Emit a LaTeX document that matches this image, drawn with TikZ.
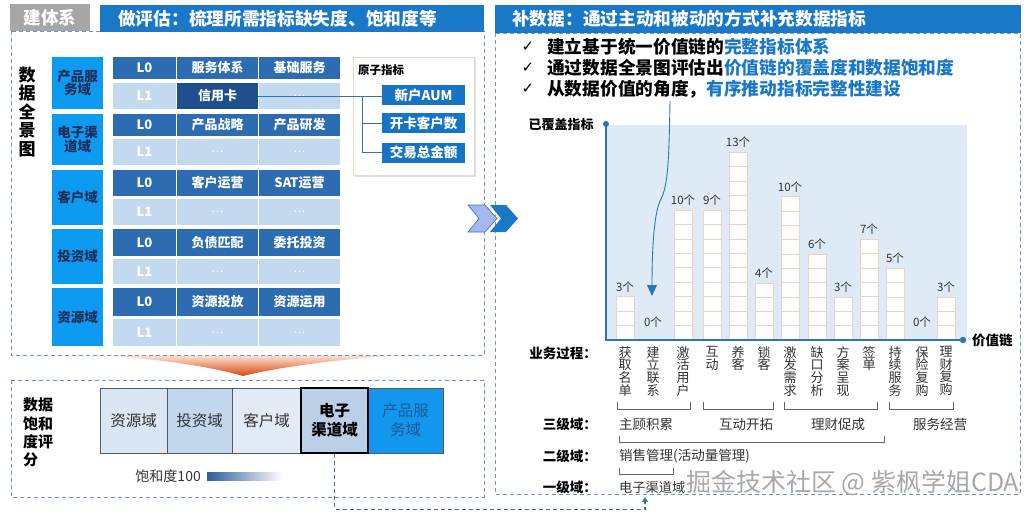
\documentclass[tikz,border=0pt]{standalone}
\usepackage{fontspec}
\setmainfont{Noto Sans CJK SC}
\newfontfamily\chk{DejaVu Sans}
\usetikzlibrary{arrows.meta,shadows}
\newcommand\fsz[1]{\fontsize{#1}{#1}\selectfont}
\definecolor{tblue}{HTML}{1A78C8}
\definecolor{tgray}{HTML}{A6A6A6}
\definecolor{lzero}{HTML}{2E6CB2}
\definecolor{lone}{HTML}{C3D9EF}
\definecolor{navyc}{HTML}{1F4E8C}
\definecolor{dom}{HTML}{0D9BF2}
\definecolor{domtext}{HTML}{1B2F5A}
\definecolor{dashc}{HTML}{7594B3}
\definecolor{axisc}{HTML}{2E75B6}
\definecolor{chartbg}{HTML}{DEEAF6}
\definecolor{cellb}{HTML}{F0D2C3}
\definecolor{txtg}{HTML}{333333}
\definecolor{abord}{HTML}{E6D8CB}
\definecolor{aboxc}{HTML}{1574C4}
\definecolor{funtop}{HTML}{FCE6DA}
\definecolor{funbot}{HTML}{D9480F}
\definecolor{sone}{HTML}{DAE6F3}
\definecolor{stwo}{HTML}{C3D7EC}
\definecolor{sthree}{HTML}{E1EBF6}
\definecolor{sfour}{HTML}{BBD0E7}
\definecolor{sfive}{HTML}{1296EE}
\definecolor{sfivetext}{HTML}{1D5A9A}
\definecolor{legc}{HTML}{2D5D9B}
\definecolor{wmc}{HTML}{A8A8A8}
\begin{document}
\begin{tikzpicture}[x=1pt,y=-1pt,
  dashbox/.style={draw=dashc, dash pattern=on 4pt off 3pt, line width=0.8pt},
  lzcell/.style={fill=lzero, text=white, font=\bfseries\fsz{13}, inner sep=0},
  locell/.style={fill=lone, text=white, font=\bfseries\fsz{13}, inner sep=0},
  dombox/.style={fill=dom, text=domtext, font=\bfseries\fsz{13.5}, align=center, inner sep=0, minimum width=51},
  abox/.style={fill=aboxc, text=white, font=\bfseries\fsz{13.5}, inner sep=0, minimum width=83, minimum height=20},
  sbox/.style={draw=black!65, line width=0.8pt, text=txtg, font=\fsz{15.5}, align=center, inner sep=0, minimum height=65},
  barcell/.style={fill=white, draw=cellb, line width=0.7pt},
  cnt/.style={font=\fsz{11.5}, text=txtg, inner sep=0},
  vlab/.style={font=\fontsize{13}{12.7}\selectfont, align=center, anchor=north, inner sep=0, text=txtg},
  rowlab/.style={font=\bfseries\fsz{13.5}, anchor=east, inner sep=0},
  brk/.style={draw=black!60, line width=0.7pt},
  conn/.style={draw=axisc, line width=0.9pt},
  bul/.style={anchor=west, font=\bfseries\fsz{17.7}, inner sep=0},
  chkm/.style={font=\chk\fsz{15}, inner sep=0}
]
\useasboundingbox (0,0) rectangle (1033,514);

% ---------- funnel ----------
\shade[top color=funtop, bottom color=funbot] (102,355) .. controls (170,360) and (215,368) .. (243,376) .. controls (275,368) and (330,360) .. (400,355) -- cycle;

% ---------- dashed panels ----------
\draw[dashbox] (11,31) rectangle (484,355);
\draw[dashbox] (11,380) rectangle (484,497);
\draw[dashbox] (495,33) rectangle (1020,494);

% ---------- titles ----------
\node[fill=tgray, text=white, font=\bfseries\fsz{17.5}, minimum width=80, minimum height=27, inner sep=0] (tabL) at (50,17.5) {建体系};
\node[fill=tblue, minimum width=384, minimum height=27, inner sep=0] (barL) at (292,18.5) {};
\node[anchor=west, text=white, font=\bfseries\fsz{17.7}, inner sep=0] (ttlL) at (118,19) {做评估：梳理所需指标缺失度、饱和度等};
\node[fill=tblue, minimum width=526, minimum height=28, inner sep=0] (barR) at (758,19) {};
\node[anchor=west, text=white, font=\bfseries\fsz{17.7}, inner sep=0] (ttlR) at (512,19) {补数据：通过主动和被动的方式补充数据指标};

% ---------- left: data panorama ----------
\node[font=\bfseries\fontsize{17}{18.5}\selectfont, align=center, inner sep=0] (pano) at (27,112) {数\\据\\全\\景\\图};

\node[dombox, minimum height=52] (d1) at (77.5,83) {产品服\\务域};
\node[dombox, minimum height=51] (d2) at (77.5,139.5) {电子渠\\道域};
\node[dombox, minimum height=55] (d3) at (77.5,197.5) {客户域};
\node[dombox, minimum height=55] (d4) at (77.5,256.5) {投资域};
\node[dombox, minimum height=58] (d5) at (77.5,317) {资源域};

% row 1
\node[lzcell, minimum width=63, minimum height=22] (r1a) at (144.5,68) {L0};
\node[lzcell, minimum width=81, minimum height=22] (r1b) at (217.5,68) {服务体系};
\node[lzcell, minimum width=81, minimum height=22] (r1c) at (299.5,68) {基础服务};
\node[locell, minimum width=63, minimum height=26] (s1a) at (144.5,96) {L1};
\node[fill=navyc, text=white, font=\bfseries\fsz{13}, inner sep=0, minimum width=81, minimum height=26] (xyk) at (217.5,96) {信用卡};
\node[locell, minimum width=81, minimum height=26, font=\fsz{11}] (s1c) at (299.5,96) {…};
% row 2
\node[lzcell, minimum width=63, minimum height=22] (r2a) at (144.5,125) {L0};
\node[lzcell, minimum width=81, minimum height=22] (r2b) at (217.5,125) {产品战略};
\node[lzcell, minimum width=81, minimum height=22] (r2c) at (299.5,125) {产品研发};
\node[locell, minimum width=63, minimum height=26] (s2a) at (144.5,152) {L1};
\node[locell, minimum width=81, minimum height=26, font=\fsz{11}] (s2b) at (217.5,152) {…};
\node[locell, minimum width=81, minimum height=26, font=\fsz{11}] (s2c) at (299.5,152) {…};
% row 3
\node[lzcell, minimum width=63, minimum height=26] (r3a) at (144.5,183) {L0};
\node[lzcell, minimum width=81, minimum height=26] (r3b) at (217.5,183) {客户运营};
\node[lzcell, minimum width=81, minimum height=26] (r3c) at (299.5,183) {SAT运营};
\node[locell, minimum width=63, minimum height=26] (s3a) at (144.5,212) {L1};
\node[locell, minimum width=81, minimum height=26, font=\fsz{11}] (s3b) at (217.5,212) {…};
\node[locell, minimum width=81, minimum height=26, font=\fsz{11}] (s3c) at (299.5,212) {…};
% row 4
\node[lzcell, minimum width=63, minimum height=27] (r4a) at (144.5,242.5) {L0};
\node[lzcell, minimum width=81, minimum height=27] (r4b) at (217.5,242.5) {负债匹配};
\node[lzcell, minimum width=81, minimum height=27] (r4c) at (299.5,242.5) {委托投资};
\node[locell, minimum width=63, minimum height=25] (s4a) at (144.5,271.5) {L1};
\node[locell, minimum width=81, minimum height=25, font=\fsz{11}] (s4b) at (217.5,271.5) {…};
\node[locell, minimum width=81, minimum height=25, font=\fsz{11}] (s4c) at (299.5,271.5) {…};
% row 5
\node[lzcell, minimum width=63, minimum height=28] (r5a) at (144.5,302) {L0};
\node[lzcell, minimum width=81, minimum height=28] (r5b) at (217.5,302) {资源投放};
\node[lzcell, minimum width=81, minimum height=28] (r5c) at (299.5,302) {资源运用};
\node[locell, minimum width=63, minimum height=27] (s5a) at (144.5,332.5) {L1};
\node[locell, minimum width=81, minimum height=27, font=\fsz{11}] (s5b) at (217.5,332.5) {…};
\node[locell, minimum width=81, minimum height=27, font=\fsz{11}] (s5c) at (299.5,332.5) {…};

% atomic indicators
\node[draw=abord, fill=white, drop shadow={opacity=0.25, shadow xshift=2pt, shadow yshift=-2pt}, minimum width=121, minimum height=118, inner sep=0] (atom) at (413.5,116) {};
\node[anchor=west, font=\bfseries\fsz{11.5}, inner sep=0] (atomt) at (358,70) {原子指标};
\node[abox] (a1) at (423.5,95) {新户AUM};
\node[abox] (a2) at (423.5,123) {开卡客户数};
\node[abox] (a3) at (423.5,152.5) {交易总金额};
\draw[conn] (xyk.east) -- (xyk.east -| a1.west);
\coordinate (jn) at (362,96);
\draw[conn] (jn) |- (a3.west);
\draw[conn] (jn |- a2.west) -- (a2.west);

% ---------- bottom-left: saturation scores ----------
\node[font=\bfseries\fontsize{15}{18.3}\selectfont, align=left, anchor=west, inner sep=0] (satl) at (23,432.5) {数据\\饱和\\度评\\分};
\node[sbox, fill=sone, minimum width=67] (e1) at (133.5,420.5) {资源域};
\node[sbox, fill=stwo, minimum width=65] (e2) at (199.5,420.5) {投资域};
\node[sbox, fill=sthree, minimum width=69] (e3) at (266.5,420.5) {客户域};
\node[sbox, fill=sfive, minimum width=75, text=sfivetext, font=\fontsize{15.5}{19}\selectfont] (e5) at (405.5,420.5) {产品服\\务域};
\node[sbox, fill=sfour, minimum width=67, draw=black, line width=2.5pt, text=black, font=\bfseries\fontsize{15.5}{19}\selectfont] (e4) at (334.5,420.5) {电子\\渠道域};
\node[anchor=east, font=\fsz{14}, text=txtg, inner sep=0] (legt) at (201,476) {饱和度100};
\shade[left color=legc, right color=white] (207,472) rectangle (283,480);

% ---------- chevrons ----------
\draw[fill=lone!85!blue, draw=axisc, line width=0.6pt] (468,205) -- (485,205) -- (497,218.5) -- (485,232) -- (468,232) -- (479,218.5) -- cycle;
\fill[tblue] (490,205) -- (506,205) -- (518,218.5) -- (506,232) -- (490,232) -- (501,218.5) -- cycle;

% ---------- right: bullets ----------
\node[chkm] (k1) at (528,47) {✓};
\node[chkm] (k2) at (528,68) {✓};
\node[chkm] (k3) at (528,89) {✓};
\node[bul] (b1) at (547,47) {建立基于统一价值链的\textcolor{tblue}{完整指标体系}};
\node[bul] (b2) at (547,68) {通过数据全景图评估出\textcolor{tblue}{价值链的覆盖度和数据饱和度}};
\node[bul] (b3) at (547,89) {从数据价值的角度，\textcolor{tblue}{有序推动指标完整性建设}};

% ---------- chart ----------
\fill[chartbg] (606,125) rectangle (967,340);
\foreach \cx/\n/\top/\lab [count=\i] in {625/3/296.7/3, 653/0/332/0, 683/9/210/10, 712/9/210/9, 738/13/152.3/13, 764/4/283.3/4, 790/10/196.7/10, 817/6/254/6, 843/3/297.3/3, 869/7/239.3/7, 895/5/268.3/5, 922/0/332/0, 946/3/297/3} {
  \ifnum\n>0
    \pgfmathsetmacro\hh{(340-\top)/\n}
    \foreach \k in {1,...,\n} {
      \draw[barcell] (\cx-9,{340-(\k-1)*\hh}) rectangle (\cx+9,{340-\k*\hh});
    }
  \fi
  \node[cnt] (c\i) at (\cx,{\top-10}) {\lab 个};
}
\draw[axisc, line width=1.8pt] (606,124) -- (606,340) -- (963,340);
\fill[axisc] (606,124) circle (3);
\fill[axisc] (963,340) circle (3.2);
\node[font=\bfseries\fsz{13}, inner sep=0] (ylab) at (561,125) {已覆盖指标};
\node[font=\bfseries\fsz{13.5}, anchor=west, inner sep=0] (xlab) at (972,340) {价值链};

% curved arrow
\coordinate (as) at (670,101);
\coordinate (ae) at (652,296);
\draw[axisc, line width=0.9pt, -{Triangle[width=10pt,length=11pt]}] (as) .. controls (669,160) and (668,185) .. (661,199) .. controls (655,210) and (652,240) .. (ae);

% process labels
\foreach \cx/\t [count=\i] in {625/获\\取\\名\\单, 653/建\\立\\联\\系, 683/激\\活\\用\\户, 712/互\\动, 738/养\\客, 764/锁\\客, 790/激\\发\\需\\求, 817/缺\\口\\分\\析, 843/方\\案\\呈\\现, 869/签\\单, 895/持\\续\\服\\务, 922/保\\险\\复\\购, 946/理\\财\\复\\购} {
  \node[vlab] (v\i) at (\cx,346) {\t};
}
\node[rowlab] (lp) at (597,353) {业务过程：};
\node[rowlab] (l3) at (597,424) {三级域：};
\node[rowlab] (l2) at (597,456) {二级域：};
\node[rowlab] (l1) at (597,487) {一级域：};

\draw[brk] (617,402) -- (617,409) -- (690,409) -- (690,402);
\draw[brk] (703,402) -- (703,409) -- (773,409) -- (773,402);
\draw[brk] (784,402) -- (784,409) -- (877,409) -- (877,402);
\draw[brk] (889,402) -- (889,409) -- (953,409) -- (953,402);
\node[font=\fsz{13.5}, text=txtg, inner sep=0] (g1) at (646,424) {主顾积累};
\node[font=\fsz{13.5}, text=txtg, inner sep=0] (g2) at (746,424) {互动开拓};
\node[font=\fsz{13.5}, text=txtg, inner sep=0] (g3) at (838,424) {理财促成};
\node[font=\fsz{13.5}, text=txtg, inner sep=0] (g4) at (940,424) {服务经营};
\draw[brk] (619,436) -- (619,442) -- (884,442) -- (884,436);
\node[font=\fsz{13.5}, text=txtg, anchor=west, inner sep=0] (h1) at (619,456) {销售管理(活动量管理)};
\draw[brk] (619,468) -- (619,474) -- (673,474) -- (673,468);
\node[font=\fsz{13.2}, text=txtg, anchor=west, inner sep=0] (i1) at (619,487) {电子渠道域};

% watermark
\node[font=\fsz{25}, text=wmc, anchor=west, inner sep=0] (wm) at (686,483) {掘金技术社区 @ 紫枫学姐CDA};

% dashed connector
\coordinate (tgt) at (645,497);
\draw[axisc, line width=1.3pt, dash pattern=on 4pt off 3pt, -{Triangle[width=6pt,length=5pt]}] (e4.south) -- ++(0,55) -| (tgt);
\end{tikzpicture}
\end{document}
